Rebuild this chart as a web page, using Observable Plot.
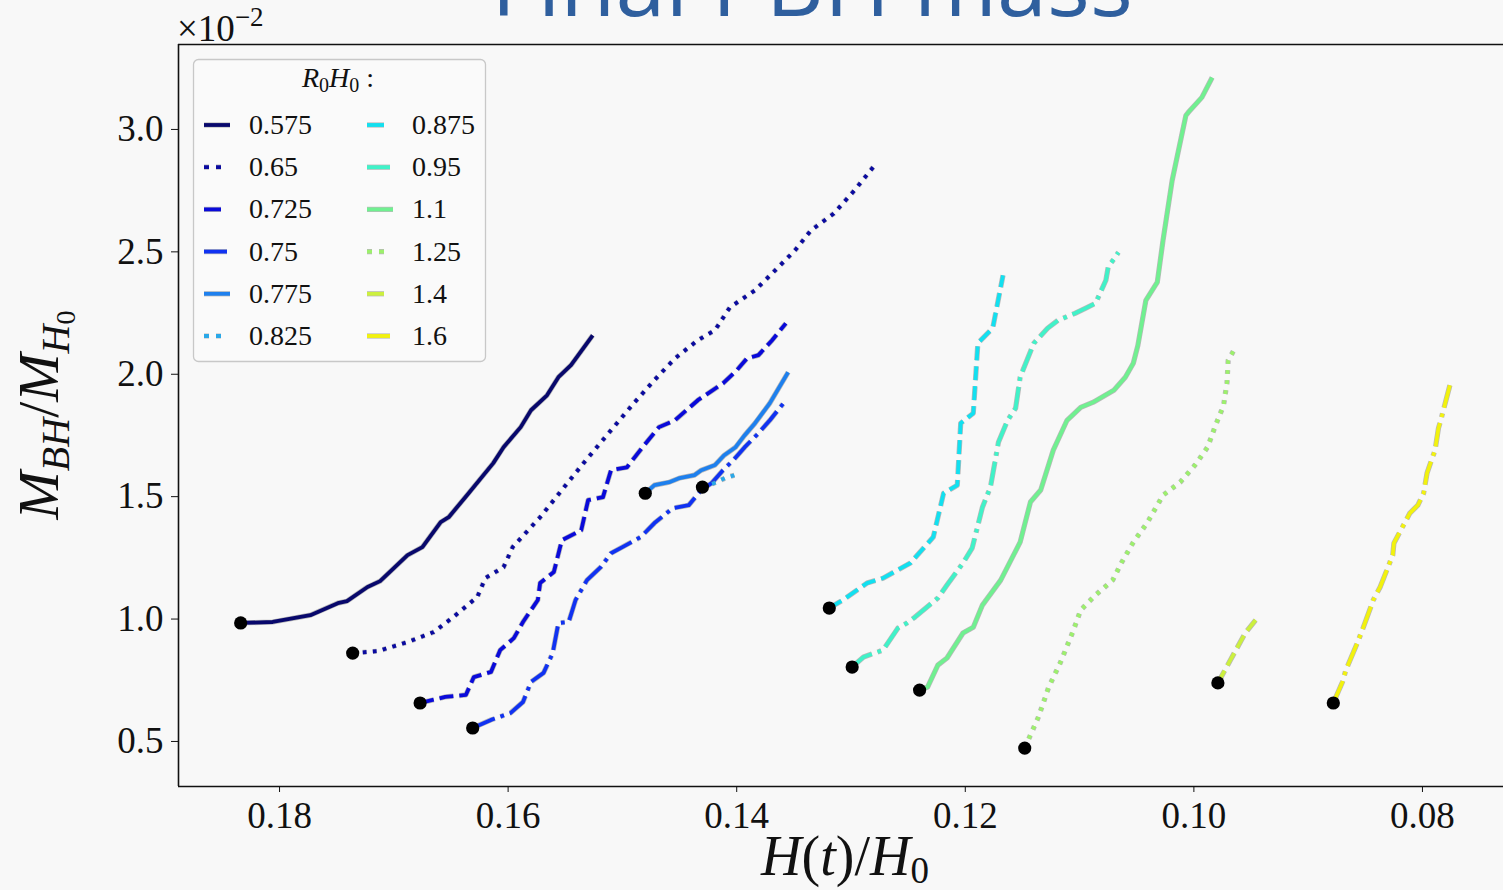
<!DOCTYPE html>
<html><head><meta charset="utf-8">
<script src="https://cdn.jsdelivr.net/npm/d3@7"></script>
<script src="https://cdn.jsdelivr.net/npm/@observablehq/plot@0.6"></script>
<style>
html,body{margin:0;padding:0;background:#f8f8f8;overflow:hidden;}
#chart{position:relative;width:1503px;height:890px;}
</style></head><body><div id="chart"></div>
<script>
// ---- series meta ----
const seriesNames = ["0.575","0.65","0.725","0.75","0.775","0.825","0.875","0.95","1.1","1.25","1.4","1.6"];
const seriesColors = ["#08086c","#0a0aa0","#0a0ada","#1032f2","#1e80ee","#2aa8e8","#12e0f0","#40f2c8","#70f090","#9cf06c","#ccf03e","#f2f20e"];
const seriesStyles = ["solid","dotted","dashed","dashdot","solid","dotted","dashed","dashdot","solid","dotted","dashed","dashdot"];

// ---- series values: H(t)/H0 and M_BH/M_H0 (x 10^-2) ----
const h_0575 = [0.1834,0.1806,0.1773,0.1749,0.1741,0.1723,0.1712,0.1688,0.1675,0.1659,0.1652,0.1636,0.1613,0.1604,0.1589,0.1580,0.1566,0.1556,0.1545,0.1526];
const m_0575 = [0.984,0.988,1.016,1.065,1.073,1.131,1.155,1.261,1.294,1.396,1.416,1.506,1.637,1.702,1.784,1.853,1.914,1.988,2.037,2.159];
const h_065 = [0.1736,0.1714,0.1688,0.1665,0.1648,0.1627,0.1620,0.1604,0.1596,0.1572,0.1553,0.1534,0.1510,0.1490,0.1472,0.1454,0.1434,0.1419,0.1406,0.1384,0.1369,0.1349,0.1335,0.1315,0.1297,0.1278];
const m_065 = [0.861,0.869,0.906,0.947,1.008,1.090,1.167,1.212,1.294,1.416,1.527,1.637,1.771,1.882,1.976,2.065,2.139,2.180,2.273,2.343,2.412,2.506,2.588,2.657,2.751,2.861];
const h_0725 = [0.1677,0.1655,0.1637,0.1630,0.1615,0.1607,0.1595,0.1587,0.1574,0.1572,0.1560,0.1553,0.1536,0.1530,0.1517,0.1510,0.1496,0.1481,0.1468,0.1454,0.1434,0.1412,0.1400,0.1391,0.1381,0.1369,0.1357];
const m_0725 = [0.657,0.682,0.690,0.763,0.784,0.873,0.922,0.988,1.078,1.147,1.192,1.322,1.363,1.486,1.498,1.608,1.620,1.710,1.784,1.812,1.894,1.963,2.016,2.065,2.078,2.139,2.208];
const h_075 = [0.1631,0.1615,0.1598,0.1587,0.1580,0.1569,0.1561,0.1556,0.1547,0.1541,0.1531,0.1519,0.1510,0.1500,0.1484,0.1472,0.1456,0.1442,0.1431,0.1422,0.1412,0.1403,0.1393,0.1381,0.1371,0.1359];
const m_075 = [0.555,0.588,0.616,0.661,0.743,0.780,0.861,0.984,0.988,1.078,1.159,1.212,1.269,1.294,1.335,1.392,1.453,1.465,1.527,1.555,1.608,1.649,1.702,1.759,1.812,1.882];
const h_0775 = [0.1480,0.1472,0.1459,0.1450,0.1437,0.1431,0.1419,0.1411,0.1401,0.1393,0.1384,0.1371,0.1355];
const m_0775 = [1.514,1.547,1.559,1.576,1.588,1.608,1.629,1.669,1.702,1.751,1.800,1.882,2.008];
const h_0825 = [0.1430,0.1420,0.1410,0.1399];
const m_0825 = [1.539,1.555,1.576,1.592];
const h_0875 = [0.1319,0.1307,0.1286,0.1272,0.1248,0.1228,0.1219,0.1207,0.1204,0.1193,0.1189,0.1176,0.1167];
const m_0875 = [1.045,1.078,1.147,1.167,1.229,1.335,1.514,1.547,1.800,1.841,2.127,2.188,2.404];
const h_095 = [0.1299,0.1289,0.1272,0.1259,0.1251,0.1244,0.1224,0.1216,0.1202,0.1194,0.1185,0.1178,0.1171,0.1163,0.1156,0.1152,0.1140,0.1128,0.1119,0.1104,0.1095,0.1086,0.1077,0.1075,0.1066];
const m_095 = [0.804,0.845,0.873,0.963,0.984,1.008,1.086,1.139,1.229,1.290,1.457,1.539,1.722,1.812,1.861,1.988,2.127,2.188,2.220,2.249,2.269,2.290,2.384,2.437,2.498];
const h_11 = [0.1240,0.1233,0.1224,0.1216,0.1202,0.1193,0.1185,0.1169,0.1152,0.1143,0.1134,0.1123,0.1111,0.1099,0.1088,0.1070,0.1060,0.1053,0.1049,0.1042,0.1032,0.1027,0.1019,0.1007,0.1005,0.0993,0.0984];
const m_11 = [0.710,0.722,0.812,0.841,0.943,0.967,1.057,1.159,1.314,1.478,1.527,1.690,1.812,1.865,1.886,1.935,1.988,2.045,2.118,2.302,2.376,2.547,2.792,3.057,3.069,3.131,3.212];
const h_125 = [0.1148,0.1136,0.1127,0.1117,0.1106,0.1099,0.1086,0.1071,0.1063,0.1053,0.1041,0.1027,0.1012,0.0999,0.0988,0.0981,0.0974,0.0971,0.0970,0.0964];
const m_125 = [0.473,0.600,0.722,0.820,0.947,1.037,1.098,1.159,1.233,1.314,1.392,1.506,1.559,1.629,1.702,1.792,1.873,1.967,2.057,2.106];
const h_14 = [0.0979,0.0968,0.0955,0.0946];
const m_14 = [0.739,0.833,0.943,0.996];
const h_16 = [0.0878,0.0870,0.0867,0.0857,0.0852,0.0843,0.0837,0.0826,0.0825,0.0811,0.0804,0.0799,0.0796,0.0793,0.0789,0.0786,0.0784,0.0776];
const m_16 = [0.657,0.743,0.792,0.902,0.963,1.078,1.131,1.261,1.310,1.433,1.465,1.514,1.596,1.637,1.690,1.780,1.812,1.955];

const seriesH = [h_0575,h_065,h_0725,h_075,h_0775,h_0825,h_0875,h_095,h_11,h_125,h_14,h_16];
const seriesM = [m_0575,m_065,m_0725,m_075,m_0775,m_0825,m_0875,m_095,m_11,m_125,m_14,m_16];

// ---- axes ----
const xTicks = [0.18,0.16,0.14,0.12,0.10,0.08];
const yTicks = [0.5,1.0,1.5,2.0,2.5,3.0];
const xDomain = [0.18884, 0.07291];
const yDomain = [0.316, 3.347];

// ---- build ----
const LW = 3.8;
const dashFor = {solid: null, dotted: "3.8,6.3", dashed: "14,6", dashdot: "24,6,3.8,6"};
const legendDash = {solid: null, dotted: "5,7,5,30", dashed: "17,30", dashdot: "23,30"};

const tables = seriesNames.map((name, i) => seriesH[i].map((h, j) => ({r: name, h, m: seriesM[i][j]})));
const starts = tables.map(t => t[0]);

const marks = [];
tables.forEach((t, i) => {
  const dash = dashFor[seriesStyles[i]];
  marks.push(Plot.line(t, {x: "h", y: "m", stroke: "#6a6a6a", strokeOpacity: 0.45, strokeWidth: LW + 1.4, strokeDasharray: dash, strokeLinecap: "butt", strokeLinejoin: "round"}));
  marks.push(Plot.line(t, {x: "h", y: "m", stroke: seriesColors[i], strokeWidth: LW, strokeDasharray: dash, strokeLinecap: "butt", strokeLinejoin: "round"}));
});
marks.push(Plot.dot(starts, {x: "h", y: "m", r: 6.6, fill: "black", stroke: "none"}));
marks.push(Plot.ruleX([xDomain[0]], {stroke: "#111", strokeWidth: 1.6}));
marks.push(Plot.ruleY([yDomain[0], yDomain[1]], {stroke: "#111", strokeWidth: 1.6}));
marks.push(Plot.axisX({ticks: xTicks, tickFormat: d3.format(".2f"), tickSize: 6, tickPadding: 9, fontSize: 37, fontFamily: "Liberation Serif", label: null, stroke: "#111"}));
marks.push(Plot.axisY({ticks: yTicks, tickFormat: d3.format(".1f"), tickSize: 7, tickPadding: 8, fontSize: 37, fontFamily: "Liberation Serif", label: null, stroke: "#111"}));

const chart = Plot.plot({
  width: 1503, height: 890,
  marginLeft: 178, marginRight: 0, marginTop: 44, marginBottom: 104,
  x: {domain: xDomain, ticks: xTicks},
  y: {domain: yDomain, ticks: yTicks},
  style: {background: "#f8f8f8", fontFamily: "Liberation Serif", color: "#111", overflow: "hidden"},
  marks
});
document.getElementById("chart").appendChild(chart);

// ---- extra text / legend ----
const svg = d3.select(chart);
const serif = "Liberation Serif";

// cropped slide title (the reference shows only its lower part)
svg.append("text").attr("x", 812).attr("y", 16).attr("text-anchor", "middle")
  .attr("font-family", "Open Sans").attr("font-size", 90).attr("fill", "#2f5f9e")
  .text("Final PBH mass");

// offset text ×10^-2
const off = svg.append("text").attr("x", 177).attr("y", 41).attr("text-anchor", "start")
  .attr("font-family", serif).attr("font-size", 37).attr("fill", "#111");
off.append("tspan").text("×10");
off.append("tspan").attr("dy", -15).attr("font-size", 27).text("−2");

// x label H(t)/H0
const xl = svg.append("text").attr("x", 845).attr("y", 875).attr("text-anchor", "middle")
  .attr("font-family", serif).attr("font-size", 56).attr("fill", "#111");
xl.append("tspan").attr("font-style", "italic").text("H");
xl.append("tspan").text("(");
xl.append("tspan").attr("font-style", "italic").text("t");
xl.append("tspan").text(")/");
xl.append("tspan").attr("font-style", "italic").text("H");
xl.append("tspan").attr("dy", 8).attr("font-size", 37).text("0");

// y label M_BH / M_H0
const yl = svg.append("text").attr("transform", "translate(58,415) rotate(-90)").attr("text-anchor", "middle")
  .attr("font-family", serif).attr("font-size", 58).attr("fill", "#111");
yl.append("tspan").attr("font-style", "italic").text("M");
yl.append("tspan").attr("dy", 11).attr("font-size", 40).attr("font-style", "italic").text("BH");
yl.append("tspan").attr("dy", -11).text("/");
yl.append("tspan").attr("font-style", "italic").text("M");
yl.append("tspan").attr("dy", 11).attr("font-size", 40).attr("font-style", "italic").text("H");
yl.append("tspan").attr("dy", 6).attr("font-size", 28).text("0");

// legend
const lg = svg.append("g").attr("text-anchor", "start");
lg.append("rect").attr("x", 193.5).attr("y", 59.5).attr("width", 292).attr("height", 302).attr("rx", 5)
  .attr("fill", "#fafafa").attr("fill-opacity", 0.85).attr("stroke", "#c8c8c8").attr("stroke-width", 1.3);
const lt = lg.append("text").attr("x", 338).attr("y", 87).attr("text-anchor", "middle")
  .attr("font-family", serif).attr("font-size", 28).attr("fill", "#111");
lt.append("tspan").attr("font-style", "italic").text("R");
lt.append("tspan").attr("dy", 5).attr("font-size", 20).text("0");
lt.append("tspan").attr("dy", -5).attr("font-style", "italic").text("H");
lt.append("tspan").attr("dy", 5).attr("font-size", 20).text("0");
lt.append("tspan").attr("dy", -5).text(" :");
seriesNames.forEach((name, i) => {
  const col = Math.floor(i / 6), row = i % 6;
  const hx = col === 0 ? 204 : 367;
  const tx = col === 0 ? 249 : 412;
  const yy = 125 + row * 42.2;
  const dash = legendDash[seriesStyles[i]];
  lg.append("line").attr("x1", hx).attr("x2", hx + 26).attr("y1", yy).attr("y2", yy)
    .attr("stroke", "#6a6a6a").attr("stroke-opacity", 0.45).attr("stroke-width", LW + 1.4).attr("stroke-dasharray", dash);
  lg.append("line").attr("x1", hx).attr("x2", hx + 26).attr("y1", yy).attr("y2", yy)
    .attr("stroke", seriesColors[i]).attr("stroke-width", LW).attr("stroke-dasharray", dash);
  lg.append("text").attr("x", tx).attr("y", yy + 9).attr("text-anchor", "start")
    .attr("font-family", serif).attr("font-size", 28).attr("fill", "#111").text(name);
});
</script></body></html>
